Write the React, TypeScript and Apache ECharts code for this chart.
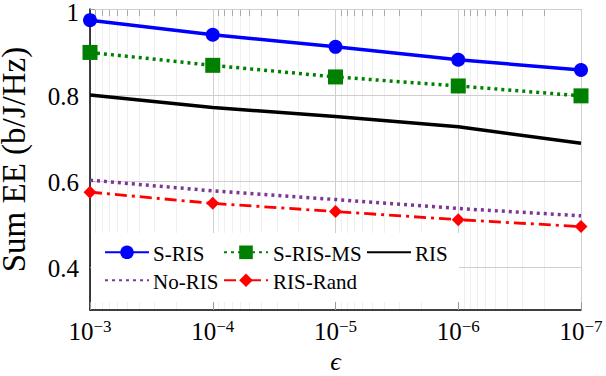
import React, { useEffect, useRef } from "react";
import * as echarts from "echarts";

// ---- data ----
const epsilon = [1e-3, 1e-4, 1e-5, 1e-6, 1e-7];
const sRis = [0.974, 0.94, 0.912, 0.882, 0.858];
const sRisMs = [0.899, 0.869, 0.842, 0.821, 0.798];
const ris = [0.8, 0.771, 0.75, 0.726, 0.688];
const noRis = [0.602, 0.577, 0.557, 0.536, 0.519];
const risRand = [0.574, 0.548, 0.529, 0.51, 0.494];

const seriesNames = ["S-RIS", "S-RIS-MS", "RIS", "No-RIS", "RIS-Rand"];
const xMajorExponents = [3, 4, 5, 6, 7]; // tick labels 10^-3 ... 10^-7
const minorMantissas = [2, 3, 4, 5, 6, 7, 8, 9];
const yTickValues = [0.4, 0.6, 0.8, 1.0];

const FONT = "Liberation Serif";

// x coordinate = -log10(epsilon)
const toX = (e: number) => -Math.log10(e);
const minorX: number[] = [];
for (let k = xMajorExponents[0]; k < xMajorExponents[xMajorExponents.length - 1]; k++) {
  for (const m of minorMantissas) minorX.push(k + 1 - Math.log10(m));
}

const pts = (vals: number[]) => epsilon.map((e, i) => [toX(e), vals[i]]);

// legend slots: [iconLeft, rowCenterY, textX]
const legendSlots: [number, number, number][] = [
  [104, 254, 153],
  [223, 254, 273],
  [366, 254, 415],
  [104, 282, 153],
  [223, 282, 273],
];

export default function App() {
  const ref = useRef<HTMLDivElement>(null);
  useEffect(() => {
    if (!ref.current) return;
    const chart = echarts.init(ref.current, undefined, { renderer: "svg" });
    const hideSymbol = new Set(["RIS", "No-RIS"]);
    const legends = seriesNames.map((name, i) => ({
      orient: "horizontal",
      padding: 0,
      itemWidth: 44,
      itemHeight: 17,
      itemGap: 0,
      left: legendSlots[i][0],
      top: legendSlots[i][1] - 8.5,
      formatter: () => "",
      textStyle: { fontSize: 10, lineHeight: 17, padding: 0 },
      selectedMode: false,
      data: [hideSymbol.has(name) ? { name, itemStyle: { opacity: 0 } } : name],
    }));
    const legendTexts = seriesNames.map((name, i) => ({
      type: "text",
      z: 10,
      x: legendSlots[i][2],
      y: legendSlots[i][1],
      style: { text: name, fontFamily: FONT, fontSize: 21, fill: "#000", verticalAlign: "middle", align: "left" },
      silent: true,
    }));
    chart.setOption({
      animation: false,
      backgroundColor: "#fff",
      textStyle: { fontFamily: FONT, color: "#000" },
      grid: { left: 90, right: 25, top: 9, bottom: 66, containLabel: false, outerBoundsMode: "none" },
      xAxis: [
        {
          type: "value",
          min: 3,
          max: 7,
          interval: 1,
          z: 1,
          axisLine: { show: true, onZero: false, lineStyle: { color: "#000", width: 1.5 } },
          axisTick: { show: true, inside: true, length: 8, lineStyle: { color: "#999" } },
          splitLine: { show: true, lineStyle: { color: "#cfcfcf", width: 1 } },
          axisLabel: {
            margin: 8,
            fontFamily: FONT,
            formatter: (v: number) => `{b|10}{s|−${Math.round(v)}}`,
            rich: {
              b: { fontFamily: FONT, fontSize: 25, lineHeight: 26, color: "#000", verticalAlign: "middle" },
              s: { fontFamily: FONT, fontSize: 17, lineHeight: 17, color: "#000", verticalAlign: "top" },
            },
          },
          name: "ϵ",
          nameLocation: "middle",
          nameGap: 34,
          nameTextStyle: { fontFamily: FONT, fontSize: 26, fontStyle: "italic", color: "#000" },
        },
        {
          type: "value",
          min: 3,
          max: 7,
          z: 0,
          axisLine: { show: false },
          axisLabel: { show: false },
          axisTick: { show: true, inside: true, length: 7, customValues: minorX, lineStyle: { color: "#aaa" } },
          splitLine: { show: true, lineStyle: { color: "#efefef", width: 1 } },
        },
      ],
      yAxis: {
        type: "value",
        min: 0.3,
        max: 1.0,
        z: 1,
        axisLine: { show: true, onZero: false, lineStyle: { color: "#000", width: 1.5 } },
        axisTick: { show: true, inside: true, length: 5, customValues: yTickValues, lineStyle: { color: "#999" } },
        splitLine: { show: true, lineStyle: { color: "#cfcfcf", width: 1 } },
        axisLabel: {
          customValues: yTickValues,
          margin: 11,
          fontFamily: FONT,
          fontSize: 25,
          color: "#000",
          formatter: (v: number) => (Math.abs(v - 1) < 1e-9 ? "{one|1}" : `{n|${v.toFixed(1)}}`),
          rich: {
            one: { fontFamily: FONT, fontSize: 25, lineHeight: 25, color: "#000", padding: [7, 0, 0, 0] },
            n: { fontFamily: FONT, fontSize: 25, lineHeight: 25, color: "#000", padding: [2, 0, 0, 0] },
          },
        },
        name: "Sum EE (b/J/Hz)",
        nameLocation: "middle",
        nameGap: 62,
        nameTextStyle: { fontFamily: FONT, fontSize: 33, lineHeight: 28, color: "#000" },
      },
      graphic: [
        {
          type: "rect",
          z: 1.5,
          shape: { x: 91, y: 233, width: 368, height: 69 },
          style: { fill: "#fff" },
          silent: true,
        },
        ...legendTexts,
      ],
      legend: legends,
      series: [
        { name: "S-RIS", type: "line", data: pts(sRis), symbol: "circle", symbolSize: 14, itemStyle: { color: "#0000ff" }, lineStyle: { color: "#0000ff", width: 3.5 }, z: 6 },
        { name: "S-RIS-MS", type: "line", data: pts(sRisMs), symbol: "rect", symbolSize: 15, itemStyle: { color: "#008000" }, lineStyle: { color: "#008000", width: 3.5, type: [3, 4] }, z: 5 },
        { name: "RIS", type: "line", data: pts(ris), symbol: "none", itemStyle: { color: "#000" }, lineStyle: { color: "#000", width: 3.5 }, z: 4 },
        { name: "No-RIS", type: "line", data: pts(noRis), symbol: "none", itemStyle: { color: "#7b3794" }, lineStyle: { color: "#7b3794", width: 3.5, type: [3, 4] }, z: 3 },
        { name: "RIS-Rand", type: "line", data: pts(risRand), symbol: "diamond", symbolSize: 13, itemStyle: { color: "#ff0000" }, lineStyle: { color: "#ff0000", width: 2.8, type: [12, 5, 3, 5] }, z: 3 },
      ],
    });
    return () => chart.dispose();
  }, []);
  return <div ref={ref} style={{ width: 606, height: 376, position: "absolute", left: 0, top: 0 }} />;
}
